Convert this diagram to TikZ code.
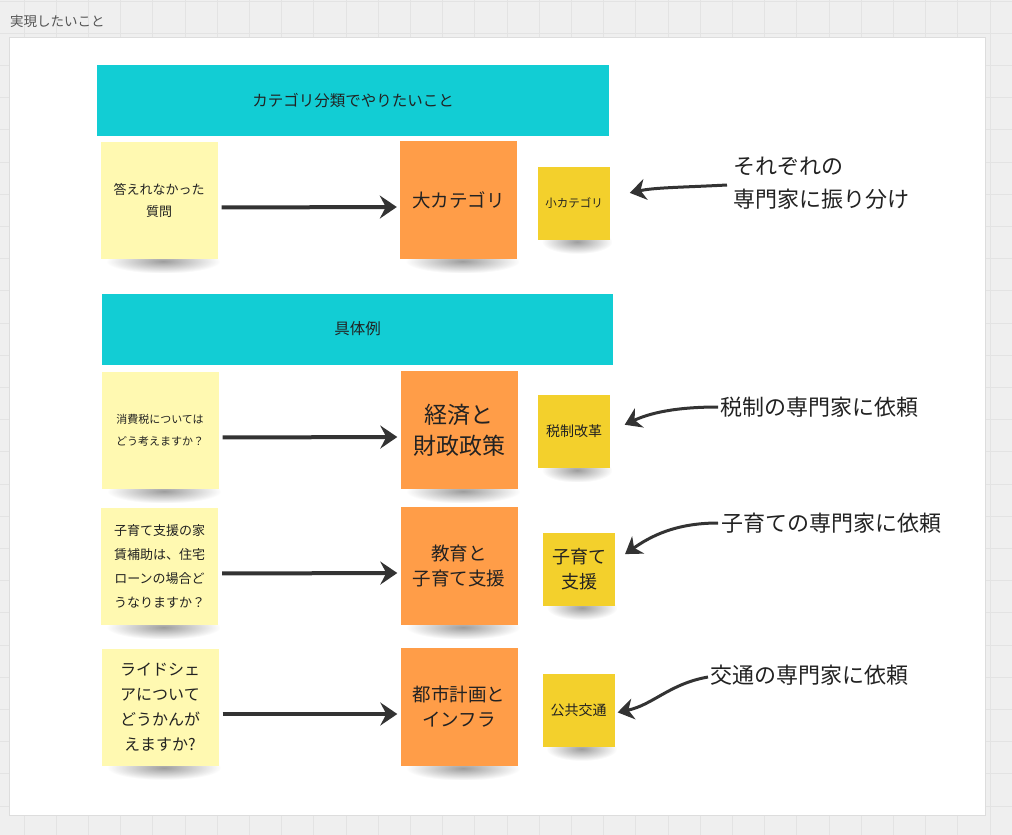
\documentclass[tikz,border=0pt]{standalone}
\usepackage{fontspec}
\setmainfont{Noto Sans CJK JP}
\usetikzlibrary{arrows.meta,fadings}
\definecolor{bgcol}{HTML}{EFEFEF}
\definecolor{gridcol}{HTML}{E3E3E3}
\definecolor{framecol}{HTML}{DDDDDD}
\definecolor{cyanhdr}{HTML}{12CDD4}
\definecolor{paleyel}{HTML}{FFF9B1}
\definecolor{orangenote}{HTML}{FF9D48}
\definecolor{goldnote}{HTML}{F3D02C}
\definecolor{inkcol}{HTML}{222222}
\definecolor{arrowcol}{HTML}{333333}
\definecolor{labelgray}{HTML}{555555}
\pgfdeclarelayer{bgzero}
\pgfdeclarelayer{background}
\pgfsetlayers{bgzero,background,main}
\newcommand{\fs}[2]{\fontsize{#1}{#2}\selectfont}
\tikzfading[name=shadowblob, inner color=transparent!55, outer color=transparent!100]
\tikzset{
  hdr/.style={fill=cyanhdr, minimum width=512pt, minimum height=71pt, inner sep=0pt, text=inkcol, font=\fs{15.5}{20}},
  notebase/.style={inner sep=0pt, align=center, text=inkcol},
  ynote/.style={notebase, fill=paleyel, minimum width=117pt, minimum height=117pt},
  onote/.style={notebase, fill=orangenote, minimum width=117pt, minimum height=118pt},
  gnote/.style={notebase, fill=goldnote, minimum width=72pt, minimum height=73pt},
  anno/.style={anchor=west, inner sep=0pt, align=left, text=inkcol, font=\fs{22}{33}},
  flowarrow/.style={draw=arrowcol, line width=4pt, -{Stealth[length=17pt,width=23pt,inset=6pt]}},
  curvearrow/.style={draw=arrowcol, line width=3pt, -{Stealth[length=16pt,width=21pt,inset=5pt]}},
  shadowfill/.style={fill=black!85, path fading=shadowblob},
}
\begin{document}
\begin{tikzpicture}[x=1pt,y=-1pt]
\useasboundingbox (0,0) rectangle (1012,835);
\begin{pgfonlayer}{bgzero}
  \fill[bgcol] (0,0) rectangle (1012,835);
  \foreach \x in {24,56.2,...,1012} \draw[gridcol, line width=1pt] (\x,0) -- (\x,835);
  \foreach \y in {1,33.2,...,835} \draw[gridcol, line width=1pt] (0,\y) -- (1012,\y);
  \fill[white, draw=framecol, line width=1pt] (9,37) rectangle (985,815);
\end{pgfonlayer}

\node[anchor=west, inner sep=0pt, text=labelgray, font=\fs{13.5}{16}] (title) at (10,21) {実現したいこと};

% headers
\node[hdr] (h1) at (353,100.5) {カテゴリ分類でやりたいこと};
\node[hdr, minimum width=511pt] (h2) at (357.5,329) {具体例};

% row 1
\node[ynote, font=\fs{13}{22}] (q1) at (159,200.5) {答えれなかった\\質問};
\node[onote, font=\fs{18.5}{26}] (c1) at (458.5,200) {大カテゴリ};
\node[gnote, font=\fs{11.5}{16}] (s1) at (574,203) {小カテゴリ};
% row 2
\node[ynote, font=\fs{11}{22}] (q2) at (160,430.5) {消費税については\\どう考えますか？};
\node[onote, font=\fs{23}{31}] (c2) at (459,430) {経済と\\財政政策};
\node[gnote, font=\fs{14}{18}] (s2) at (574,431.5) {税制改革};
% row 3
\node[ynote, font=\fs{13}{24}] (q3) at (159.5,566.5) {子育て支援の家\\賃補助は、住宅\\ローンの場合ど\\うなりますか？};
\node[onote, font=\fs{18.5}{25}] (c3) at (459,566) {教育と\\子育て支援};
\node[gnote, font=\fs{18}{25}] (s3) at (579,569) {子育て\\支援};
% row 4
\node[ynote, font=\fs{16}{25}] (q4) at (160,707) {ライドシェ\\アについて\\どうかんが\\えますか?};
\node[onote, font=\fs{18.5}{25}] (c4) at (459,707) {都市計画と\\インフラ};
\node[gnote, font=\fs{14}{18}] (s4) at (578.5,710) {公共交通};

% annotations
\node[anno] (a1) at (733,183.5) {それぞれの\\専門家に振り分け};
\node[anno] (a2) at (720,407) {税制の専門家に依頼};
\node[anno] (a3) at (721,523) {子育ての専門家に依頼};
\node[anno] (a4) at (710,675) {交通の専門家に依頼};

% shadows
\begin{pgfonlayer}{background}
  \foreach \n/\w in {q1/6,q2/6,q3/6,q4/6,c1/6,c2/6,c3/6,c4/6,s1/4,s2/4,s3/4,s4/4} {
    \fill[shadowfill] ([xshift=\w pt, yshift=10pt]\n.south west) rectangle ([xshift=2pt, yshift=-14pt]\n.south east);
  }
\end{pgfonlayer}

% flow arrows
\foreach \i in {1,2,3,4} {
  \draw[flowarrow, shorten <=4pt, shorten >=3pt] ([yshift=-7pt]q\i.east) -- ([yshift=-7pt]c\i.west);
}

% curved arrows
\draw[curvearrow, shorten >=20pt] ([xshift=-6pt, yshift=-1.5pt]a1.west) to[out=183, in=12] ([yshift=6pt]s1.east);
\draw[curvearrow, shorten >=16pt] ([xshift=-2pt]a2.west) to[out=180, in=25] (s2.east);
\draw[curvearrow, shorten >=12pt] ([xshift=-3pt]a3.west) to[out=180, in=35] ([yshift=8pt]s3.east);
\draw[curvearrow, shorten >=3pt] ([xshift=-2pt, yshift=-2pt]a4.west) to[out=190, in=12] ([yshift=-3pt]s4.east);
\end{tikzpicture}
\end{document}
